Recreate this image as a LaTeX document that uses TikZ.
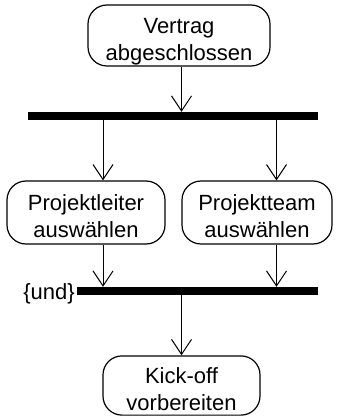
\documentclass[tikz,border=0pt]{standalone}
\usepackage{fontspec}
\setmainfont{Liberation Sans}
\usetikzlibrary{arrows.meta}
\begin{document}
\begin{tikzpicture}[x=1pt,y=-1pt,
  act/.style={draw, line width=1.2pt, rounded corners=19pt, align=center, inner sep=0pt,
    text height=54.6pt, text depth=4.6pt,
    font=\fontsize{22}{26.7}\selectfont},
  syncbar/.style={fill=black, draw=none, inner sep=0pt, minimum height=8pt},
  arr/.style={line width=1pt, -{Straight Barb[length=15pt,width=20pt,line width=1pt]}},
  lbl/.style={font=\fontsize{22}{26.7}\selectfont, inner sep=0pt}]
\useasboundingbox (0,0) rectangle (338,417);
\node[act, minimum width=182pt, minimum height=61pt] (t) at (179,35.5) {Vertrag\\abgeschlossen};
\node[syncbar, minimum width=290pt] (b1) at (173,116) {};
\node[act, minimum width=158pt, minimum height=63pt] (l) at (86,212.5) {Projektleiter\\auswählen};
\node[act, minimum width=150pt, minimum height=63pt] (r) at (257,212.5) {Projektteam\\auswählen};
\node[syncbar, minimum width=241pt] (b2) at (197.5,291) {};
\node[lbl, anchor=base east] (und) at (75,299.5) {\{und\}};
\node[act, minimum width=157pt, minimum height=59pt] (k) at (181.5,385.5) {Kick-off\\vorbereiten};
\coordinate (xm) at (181.5,0);
\coordinate (xl) at (103,0);
\coordinate (xr) at (276.5,0);
\draw[arr] (t.south -| xm) -- (b1.north -| xm);
\draw[arr] (b1.south -| xl) -- (l.north -| xl);
\draw[arr] (b1.south -| xr) -- (r.north -| xr);
\draw[arr] (l.south -| xl) -- (b2.north -| xl);
\draw[arr] (r.south -| xr) -- (b2.north -| xr);
\draw[arr] (b2.south -| xm) -- (k.north -| xm);
\end{tikzpicture}
\end{document}
